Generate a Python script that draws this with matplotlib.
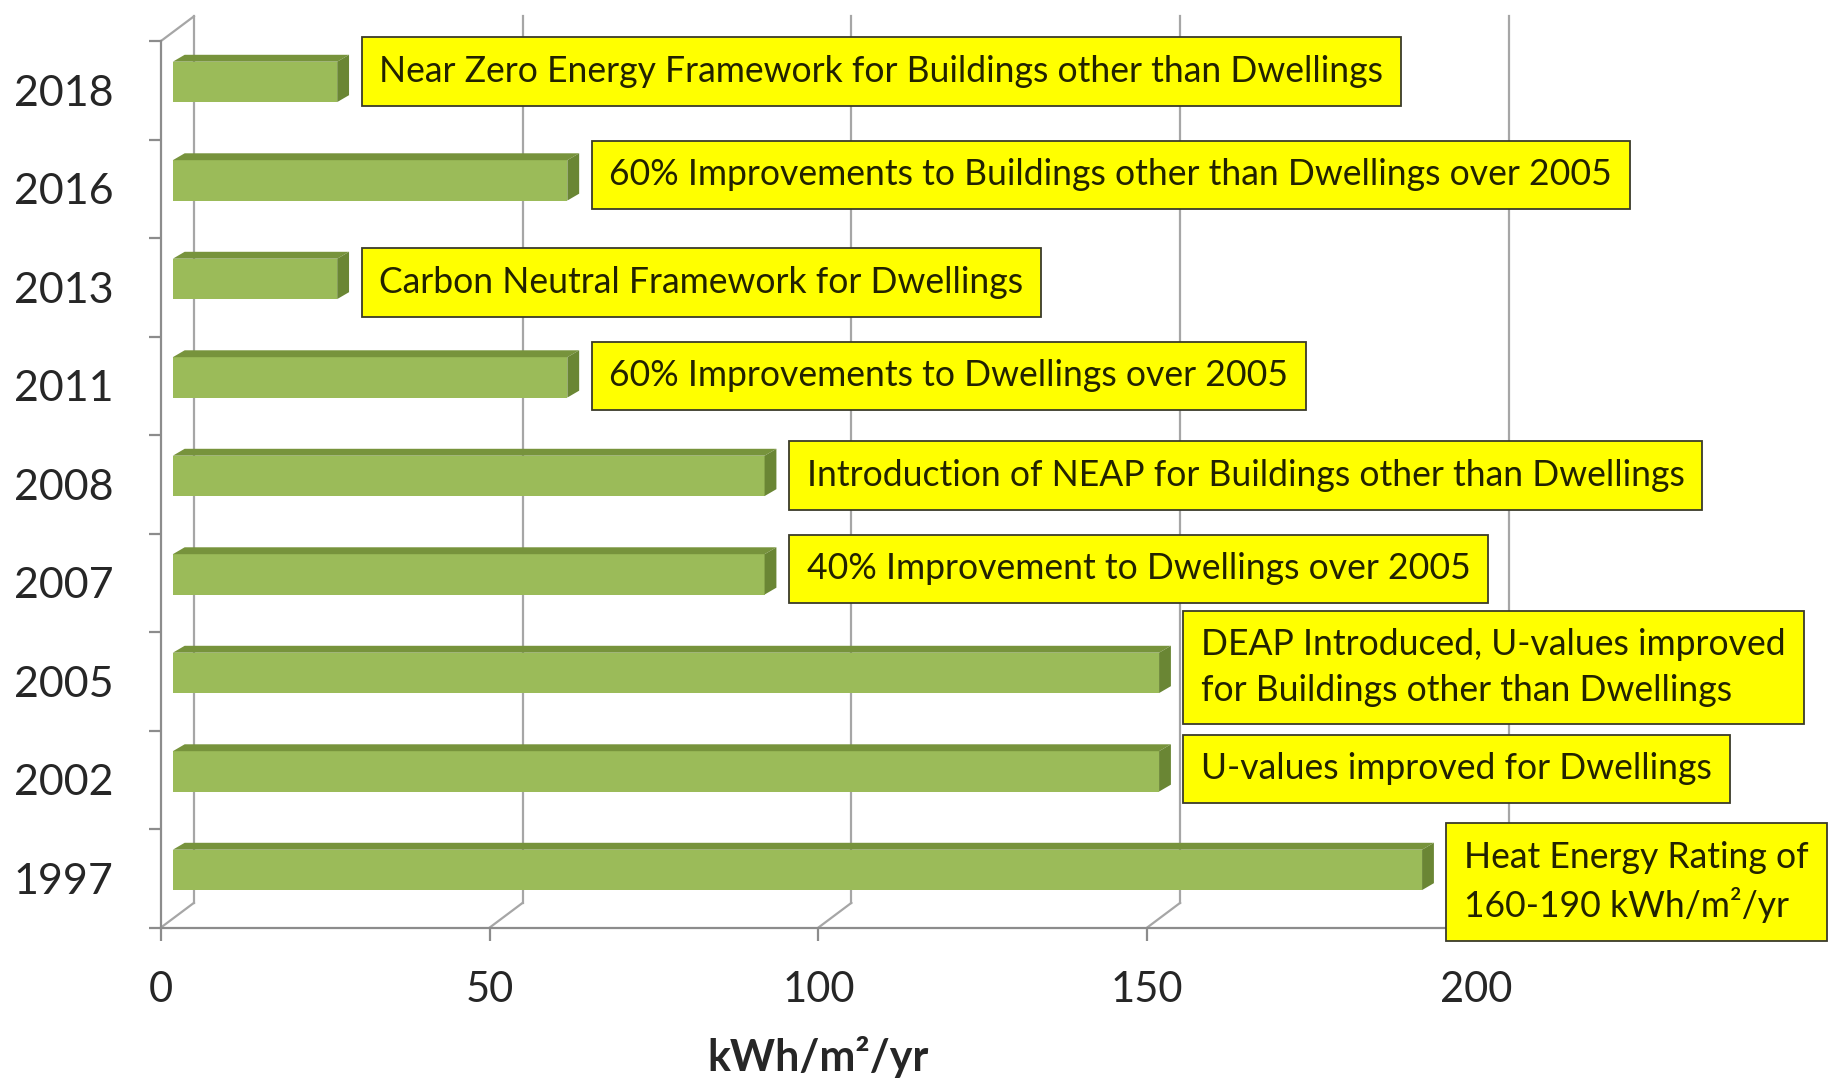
import matplotlib
matplotlib.use("Agg")
import matplotlib.pyplot as plt

plt.rcParams['font.family'] = ['Lato', 'DejaVu Sans']

# data, bottom to top
years = ['1997', '2002', '2005', '2007', '2008', '2011', '2013', '2016', '2018']
values = [190, 150, 150, 90, 90, 60, 25, 60, 25]
notes = [
    'Heat Energy Rating of\n160-190 kWh/m\u00b2/yr',
    'U-values improved for Dwellings',
    'DEAP Introduced, U-values improved\nfor Buildings other than Dwellings',
    '40% Improvement to Dwellings over 2005',
    'Introduction of NEAP for Buildings other than Dwellings',
    '60% Improvements to Dwellings over 2005',
    'Carbon Neutral Framework for Dwellings',
    '60% Improvements to Buildings other than Dwellings over 2005',
    'Near Zero Energy Framework for Buildings other than Dwellings',
]
xticks = [0, 50, 100, 150, 200]
xlabel = 'kWh/m\u00b2/yr'

# 3d look
depth_x = 5.0      # floor depth in x units
depth_y = 0.25     # floor depth in category units
bar_off = 1.8      # bar front face sits this far in
bar_dx, bar_dy = 1.8, 0.07
bar_h = 0.41
front = '#9BBB59'
top_c = '#77933C'
side_c = '#6A8634'
grid_c = '#A6A6A6'

fig = plt.figure(figsize=(18.41, 10.85), dpi=100)
ax = fig.add_axes([161 / 1841, 157.5 / 1085, 1676.6 / 1841, 886.5 / 1085])
ax.set_xlim(0, 255)
ax.set_ylim(0, 9)

# walls and gridlines
for t in xticks:
    ax.plot([t, t + depth_x], [0, depth_y], color=grid_c, lw=1.6, zorder=1, clip_on=False)
    ax.plot([t + depth_x] * 2, [depth_y, 9 + depth_y], color=grid_c, lw=1.6, zorder=1, clip_on=False)
ax.plot([0, depth_x], [9, 9 + depth_y], color=grid_c, lw=1.6, zorder=1, clip_on=False)

# bars
ypos = [i + 0.38 + bar_h / 2 for i in range(len(years))]
ax.barh(ypos, values, height=bar_h, left=bar_off, color=front, zorder=3)
for y, v in zip(ypos, values):
    b, t = y - bar_h / 2, y + bar_h / 2
    x1 = bar_off + v
    ax.fill([bar_off, x1, x1 + bar_dx, bar_off + bar_dx], [t, t, t + bar_dy, t + bar_dy],
            color=top_c, zorder=3, lw=0)
    ax.fill([x1, x1 + bar_dx, x1 + bar_dx, x1], [b, b + bar_dy, t + bar_dy, t],
            color=side_c, zorder=3, lw=0)

# yellow notes
box_dy = [-0.04, 0.11, 0.14, 0.14, 0.09, 0.10, 0.05, 0.14, 0.19]
fs_note = 25.6
for i, (v, txt) in enumerate(zip(values, notes)):
    ax.annotate(txt, xy=(v + 5.5, i + 0.5 + box_dy[i]), xytext=(0.5 * fs_note, 0),
                textcoords='offset points', ha='left', va='center', fontsize=fs_note,
                color='#222200', linespacing=1.45, zorder=6, annotation_clip=False,
                bbox=dict(boxstyle='square,pad=0.5', fc='#FFFF00', ec='#3a3a2a', lw=1.3))

# axes
for s in ['top', 'right']:
    ax.spines[s].set_visible(False)
for s in ['left', 'bottom']:
    ax.spines[s].set_color('#8C8C8C')
    ax.spines[s].set_linewidth(1.6)
ax.spines['bottom'].set_bounds(0, 200)

ax.set_xticks(xticks)
ax.set_xticklabels([str(t) for t in xticks])
ax.tick_params(axis='x', length=9, width=1.6, color='#8C8C8C', pad=22,
               labelsize=30, labelcolor='#262626')

ax.set_yticks(range(len(years) + 1))
ax.set_yticklabels([])
ax.set_yticks([i + 0.5 for i in range(len(years))], minor=True)
ax.set_yticklabels(years, minor=True)
ax.tick_params(axis='y', which='major', length=9, width=1.6, color='#8C8C8C')
ax.tick_params(axis='y', which='minor', length=0, pad=34, labelsize=31, labelcolor='#262626')

ax.set_xlabel(xlabel, fontsize=31, fontweight='bold', color='#262626')
ax.xaxis.set_label_coords(100 / 255, -0.146)
ax.xaxis.label.set_va('center')

fig.savefig('out.png', dpi=100, facecolor='white')
